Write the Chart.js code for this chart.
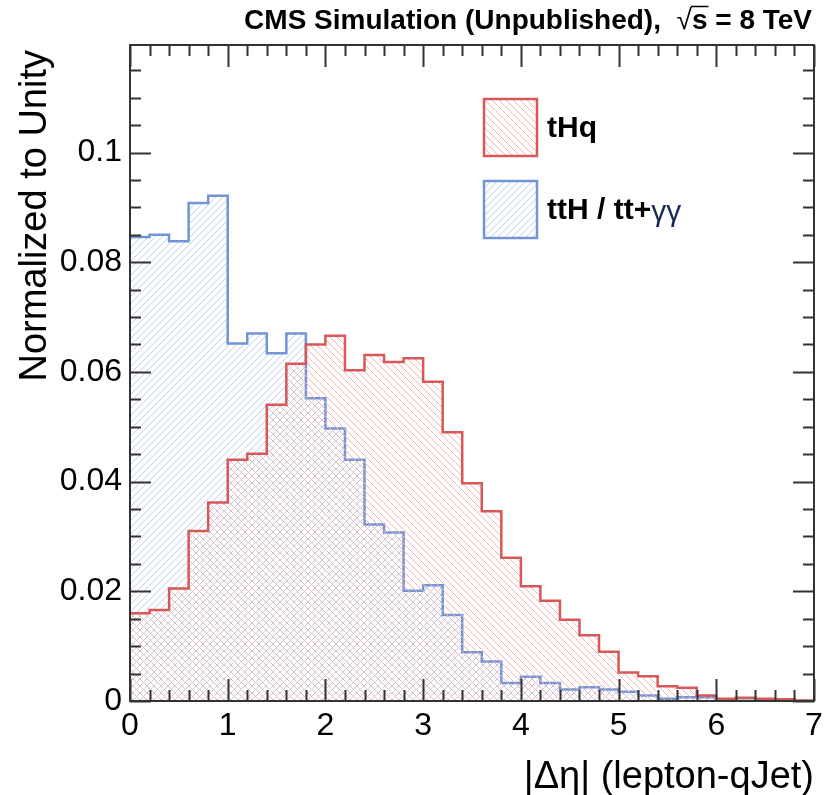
<!DOCTYPE html>
<html>
<head>
<meta charset="utf-8">
<title>Delta eta lepton-qJet</title>
<script src="https://cdn.jsdelivr.net/npm/chart.js@4/dist/chart.umd.min.js"></script>
<style>
  html, body { margin: 0; padding: 0; background: #fff; }
  #wrap { width: 825px; height: 795px; }
</style>
</head>
<body>
<div id="wrap"><canvas id="deta"></canvas></div>
<script>
// bin edges of |delta eta| (35 bins of 0.2)
const binEdges = [0, 0.2, 0.4, 0.6, 0.8, 1.0, 1.2, 1.4, 1.6, 1.8, 2.0, 2.2, 2.4, 2.6, 2.8, 3.0,
  3.2, 3.4, 3.6, 3.8, 4.0, 4.2, 4.4, 4.6, 4.8, 5.0, 5.2, 5.4, 5.6, 5.8, 6.0, 6.2, 6.4, 6.6, 6.8, 7.0];

// normalized bin contents
const tHq = [0.0160, 0.0166, 0.0205, 0.0310, 0.0362, 0.0440, 0.0451, 0.0540, 0.0615, 0.0650,
  0.0666, 0.0603, 0.0631, 0.0618, 0.0625, 0.0582, 0.0490, 0.0397, 0.0346, 0.0261,
  0.0209, 0.0183, 0.0148, 0.0120, 0.0090, 0.0052, 0.0045, 0.0027, 0.0024, 0.0010,
  0.0004, 0.0006, 0.0004, 0.0003, 0.0001];
const ttH = [0.0846, 0.0850, 0.0838, 0.0908, 0.0921, 0.0652, 0.0670, 0.0634, 0.0670, 0.0552,
  0.0497, 0.0440, 0.0322, 0.0307, 0.0201, 0.0211, 0.0157, 0.0089, 0.0072, 0.0033,
  0.0044, 0.0033, 0.0021, 0.0025, 0.0021, 0.0017, 0.0010, 0.0004, 0.0007, 0.0007,
  0.0002, 0.0005, 0.0001, 0.0001, 0.0000];

const xTickLabels = ['0', '1', '2', '3', '4', '5', '6', '7'];
const yTickLabels = ['0', '0.02', '0.04', '0.06', '0.08', '0.1'];

const RED = 'rgb(214, 88, 88)';
const BLUE = 'rgb(115, 148, 214)';
const FONT = '"Liberation Sans", Arial, Helvetica, sans-serif';

// crisp one-pixel diagonal hatch tile, dir = 1 for "\\", -1 for "//"
function hatch(color, dir) {
  const s = 7;
  const c = document.createElement('canvas');
  c.width = s; c.height = s;
  const g = c.getContext('2d');
  g.fillStyle = color;
  for (let i = 0; i < s; i++) {
    g.fillRect(i, dir > 0 ? i : s - 1 - i, 1, 1);
  }
  return g.createPattern(c, 'repeat');
}

const redHatch = hatch('rgb(242, 178, 178)', 1);
const blueHatch = hatch('rgb(190, 206, 238)', -1);

// one point per bin low edge, plus the upper edge carrying the last content
function steps(values) {
  const pts = values.map((v, i) => ({ x: binEdges[i], y: v }));
  pts.push({ x: binEdges[binEdges.length - 1], y: values[values.length - 1] });
  return pts;
}

// ROOT-like frame: inward ticks on all four sides, labels and titles
const rootFrame = {
  id: 'rootFrame',
  afterDraw(chart) {
    const ctx = chart.ctx;
    const a = chart.chartArea;
    const xs = chart.scales.x, ys = chart.scales.y;
    ctx.save();
    ctx.strokeStyle = '#333';
    ctx.lineWidth = 2;
    ctx.beginPath();
    // x ticks (bottom and top)
    for (let k = 0; k <= 35; k++) {
      const px = Math.round(xs.getPixelForValue(k * 0.2)) + 0.5;
      const len = (k % 5 === 0) ? 22 : 11;
      ctx.moveTo(px, a.bottom); ctx.lineTo(px, a.bottom - len);
      ctx.moveTo(px, a.top); ctx.lineTo(px, a.top + len);
    }
    // y ticks (left and right)
    for (let k = 0; k * 0.005 <= 0.1199; k++) {
      const py = Math.round(ys.getPixelForValue(k * 0.005)) + 0.5;
      const len = (k % 4 === 0) ? 21 : 11;
      ctx.moveTo(a.left, py); ctx.lineTo(a.left + len, py);
      ctx.moveTo(a.right, py); ctx.lineTo(a.right - len, py);
    }
    ctx.stroke();
    ctx.strokeRect(a.left, a.top, a.right - a.left, a.bottom - a.top);

    ctx.fillStyle = '#000';
    ctx.font = '32px ' + FONT;
    // y tick labels
    ctx.textAlign = 'right';
    ctx.textBaseline = 'middle';
    yTickLabels.forEach(t => {
      ctx.fillText(t, a.left - 8, ys.getPixelForValue(parseFloat(t)));
    });
    // x tick labels
    ctx.textAlign = 'center';
    ctx.textBaseline = 'top';
    xTickLabels.forEach(t => {
      ctx.fillText(t, xs.getPixelForValue(parseFloat(t)), a.bottom + 9);
    });

    // axis titles
    ctx.font = '38px ' + FONT;
    ctx.textAlign = 'right';
    ctx.textBaseline = 'alphabetic';
    ctx.fillText('|\u0394\u03b7| (lepton-qJet)', a.right, 788);
    ctx.save();
    ctx.translate(46, a.top + 5);
    ctx.rotate(-Math.PI / 2);
    ctx.fillText('Normalized to Unity', 0, 0);
    ctx.restore();

    // header
    const hFont = 'bold 28px ' + FONT;
    ctx.font = hFont;
    ctx.textAlign = 'right';
    const tail = 's = 8 TeV';
    ctx.fillText(tail, a.right - 2, 29);
    const tailW = ctx.measureText(tail).width;
    const sW = ctx.measureText('s').width;
    ctx.font = '28px ' + FONT;
    const rootW = ctx.measureText('\u221a').width;
    const rootX = a.right - 2 - tailW - rootW;
    ctx.textAlign = 'left';
    ctx.fillText('\u221a', rootX, 29);
    ctx.lineWidth = 1.5;
    ctx.strokeStyle = '#000';
    ctx.beginPath();
    ctx.moveTo(rootX + rootW - 1, 6.5);
    ctx.lineTo(rootX + rootW + sW + 1, 6.5);
    ctx.stroke();
    ctx.font = hFont;
    ctx.textAlign = 'right';
    ctx.fillText('CMS Simulation (Unpublished),  ', rootX, 29);

    // legend
    const entries = [
      { label: 'tHq', extra: '', color: RED, fill: redHatch, y: 99 },
      { label: 'ttH / tt+', extra: '\u03b3\u03b3', color: BLUE, fill: blueHatch, y: 181 }
    ];
    entries.forEach(e => {
      ctx.fillStyle = e.fill;
      ctx.fillRect(484, e.y, 53, 57);
      ctx.strokeStyle = e.color;
      ctx.lineWidth = 2.5;
      ctx.strokeRect(484, e.y, 53, 57);
      ctx.fillStyle = '#000';
      ctx.textAlign = 'left';
      ctx.textBaseline = 'middle';
      ctx.font = 'bold 30px ' + FONT;
      ctx.fillText(e.label, 547, e.y + 30);
      if (e.extra) {
        const w = ctx.measureText(e.label).width;
        ctx.font = '30px ' + FONT;
        ctx.fillStyle = '#1a2a55';
        ctx.fillText(e.extra, 547 + w, e.y + 32);
      }
    });
    ctx.restore();
  }
};

new Chart(document.getElementById('deta'), {
  type: 'line',
  data: {
    datasets: [{
      label: 'tHq',
      data: steps(tHq),
      borderColor: RED,
      backgroundColor: redHatch,
      borderWidth: 2.5,
      pointRadius: 0,
      stepped: true,
      fill: 'origin'
    }, {
      label: 'ttH / tt+\u03b3\u03b3',
      data: steps(ttH),
      borderColor: BLUE,
      backgroundColor: blueHatch,
      borderWidth: 2.5,
      pointRadius: 0,
      stepped: true,
      fill: 'origin'
    }]
  },
  options: {
    responsive: true,
    maintainAspectRatio: false,
    animation: false,
    layout: { padding: { left: 130, right: 11, top: 45, bottom: 94 } },
    plugins: {
      legend: { display: false },
      tooltip: { enabled: false }
    },
    scales: {
      x: { type: 'linear', min: 0, max: 7, display: false },
      y: { type: 'linear', min: 0, max: 0.1196, display: false }
    }
  },
  plugins: [rootFrame]
});
</script>
</body>
</html>
